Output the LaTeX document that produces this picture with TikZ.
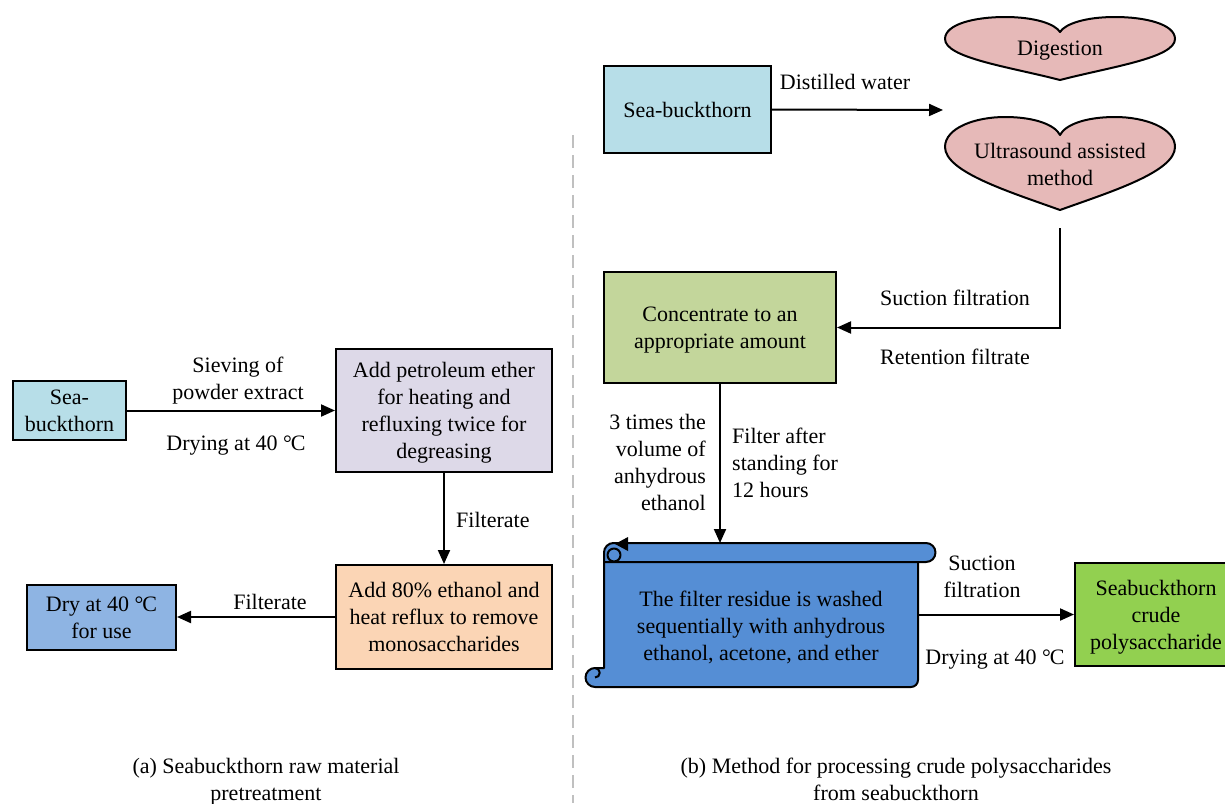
\documentclass[tikz,border=0pt]{standalone}
\usepackage{fontspec}
\setmainfont{Liberation Serif}
\newcommand\degC{°\kern-1pt C}
\newcommand\tbc[1]{\raisebox{-2.5pt}[\height][\depth]{\begin{tabular}{@{}c@{}}#1\end{tabular}}}
\newcommand\tbl[1]{\raisebox{-2.5pt}[\height][\depth]{\begin{tabular}{@{}l@{}}#1\end{tabular}}}
\newcommand\tbr[1]{\raisebox{-2.5pt}[\height][\depth]{\begin{tabular}{@{}r@{}}#1\end{tabular}}}
\usetikzlibrary{arrows.meta}
\definecolor{cLblue}{HTML}{B7DEE8}
\definecolor{cLav}{HTML}{DDD9E8}
\definecolor{cPeach}{HTML}{FBD5B5}
\definecolor{cDry}{HTML}{8EB4E3}
\definecolor{cConc}{HTML}{C3D69B}
\definecolor{cPink}{HTML}{E6B9B8}
\definecolor{cScroll}{HTML}{558ED5}
\definecolor{cGreen}{HTML}{92D050}
\definecolor{cDash}{HTML}{C0C0C0}
\begin{document}
\begin{tikzpicture}[x=1pt,y=-1pt,
  txt/.style={font=\fontsize{22pt}{27pt}\selectfont, inner sep=0pt},
  box/.style={txt, draw=black, line width=2pt, minimum width=#1},
  arr/.style={line width=2pt, -{Triangle[length=14pt,width=12pt]}},
  shapeln/.style={draw=black, line width=2pt, line join=round}
]
\useasboundingbox (0,0) rectangle (1225,803);
\fill[white] (0,0) rectangle (1225,803);

% divider
\draw[cDash, line width=2pt, dash pattern=on 13pt off 7pt] (573,135) -- (573,803);

% ---------- (a) ----------
\node[box=113pt, minimum height=59pt, fill=cLblue] (lsea) at (69.5,410.5) {\tbc{Sea-\\buckthorn}};
\node[box=216pt, minimum height=123pt, fill=cLav] (pet) at (444,410.5) {\tbc{Add petroleum ether\\for heating and\\refluxing twice for\\degreasing}};
\node[box=216pt, minimum height=104pt, fill=cPeach] (eth) at (444,617) {\tbc{Add 80\% ethanol and\\heat reflux to remove\\monosaccharides}};
\node[box=149pt, minimum height=65pt, fill=cDry] (dry) at (101.5,617) {\tbc{Dry at 40 \degC\\for use}};

\draw[arr] (lsea.east) -- (pet.west);
\draw[arr] (pet.south) -- (eth.north);
\draw[arr] (eth.west) -- (dry.east);

\node[txt] (l1) at (238,378.5) {\tbc{Sieving of\\powder extract}};
\node[txt] (l2) at (236,443) {\tbc{Drying at 40 \degC}};
\node[txt, anchor=west] (l3) at (456,520) {\tbl{Filterate}};
\node[txt] (l4) at (270,602) {\tbc{Filterate}};
\node[txt] (capa) at (266,779) {\tbc{(a) Seabuckthorn raw material\\pretreatment}};

% ---------- (b) ----------
\node[box=167pt, minimum height=87pt, fill=cLblue] (rsea) at (687.5,109.5) {\tbc{Sea-buckthorn}};
\node[box=232pt, minimum height=111pt, fill=cConc] (conc) at (720,327.5) {\tbc{Concentrate to an\\appropriate amount}};
\node[box=162pt, minimum height=103pt, fill=cGreen] (green) at (1156,614.5) {\tbc{Seabuckthorn\\crude\\polysaccharide}};

% hearts
\draw[shapeln, fill=cPink] (1060,80) .. controls (1010,67) and (945,58) .. (945,39)
  .. controls (945,24) and (975,17) .. (1005,17)
  .. controls (1035,17) and (1055,24) .. (1060,32)
  .. controls (1065,24) and (1085,17) .. (1115,17)
  .. controls (1145,17) and (1175,24) .. (1175,39)
  .. controls (1175,58) and (1110,67) .. (1060,80) -- cycle;
\node[txt] (digest) at (1060,48) {\tbc{Digestion}};
\draw[shapeln, fill=cPink] (1060,210) .. controls (1010,192) and (945,172) .. (945,147)
  .. controls (945,128) and (975,117) .. (1005,117)
  .. controls (1035,117) and (1055,125) .. (1060,135)
  .. controls (1065,125) and (1085,117) .. (1115,117)
  .. controls (1145,117) and (1175,128) .. (1175,147)
  .. controls (1175,172) and (1110,192) .. (1060,210) -- cycle;
\node[txt] (ultra) at (1060,164.5) {\tbc{Ultrasound assisted\\method}};

% scroll
\draw[shapeln, fill=cScroll] (918,553) -- (918,680) arc[start angle=0,end angle=90,radius=7]
  -- (595,687) arc[start angle=90,end angle=270,radius=9.5] -- (604,668) -- (604,553) -- cycle;
\draw[shapeln] (595,668) arc[start angle=270,end angle=450,radius=4.75];
\draw[shapeln, fill=cScroll] (604,562) -- (604,552.5) arc[start angle=180,end angle=270,radius=9.5]
  -- (926,543) arc[start angle=270,end angle=450,radius=9.5] -- (613.5,562) -- cycle;
\draw[shapeln, fill=cScroll] (614,555) circle (6.5);
\fill[black] (615,544) -- (628,537) -- (628,551) -- cycle;
\coordinate (scrolleast) at (918,620);
\node[txt] (scrolltxt) at (761,626) {\tbc{The filter residue is washed\\sequentially with anhydrous\\ethanol, acetone, and ether}};

\coordinate (heartgap) at (943,110);
\coordinate (ustart) at (1060,228);
\coordinate (scrolltop) at (720,543);

\draw[arr] (rsea.east) -- (heartgap);
\draw[arr] (ustart) |- (conc.east);
\draw[arr] (conc.south) -- (scrolltop);
\draw[arr] (scrolleast |- green.west) -- (green.west);

\node[txt] (r1) at (845,82) {\tbc{Distilled water}};
\node[txt] (r2) at (955,298) {\tbc{Suction filtration}};
\node[txt] (r3) at (955,357) {\tbc{Retention filtrate}};
\node[txt, anchor=east] (r4) at (706,462.5) {\tbr{3 times the\\volume of\\anhydrous\\ethanol}};
\node[txt, anchor=west] (r5) at (732,463) {\tbl{Filter after\\standing for\\12 hours}};
\node[txt] (r6) at (982,576.5) {\tbc{Suction\\filtration}};
\node[txt] (r7) at (995,657) {\tbc{Drying at 40 \degC}};
\node[txt] (capb) at (896,779) {\tbc{(b) Method for processing crude polysaccharides\\from seabuckthorn}};
\end{tikzpicture}
\end{document}
